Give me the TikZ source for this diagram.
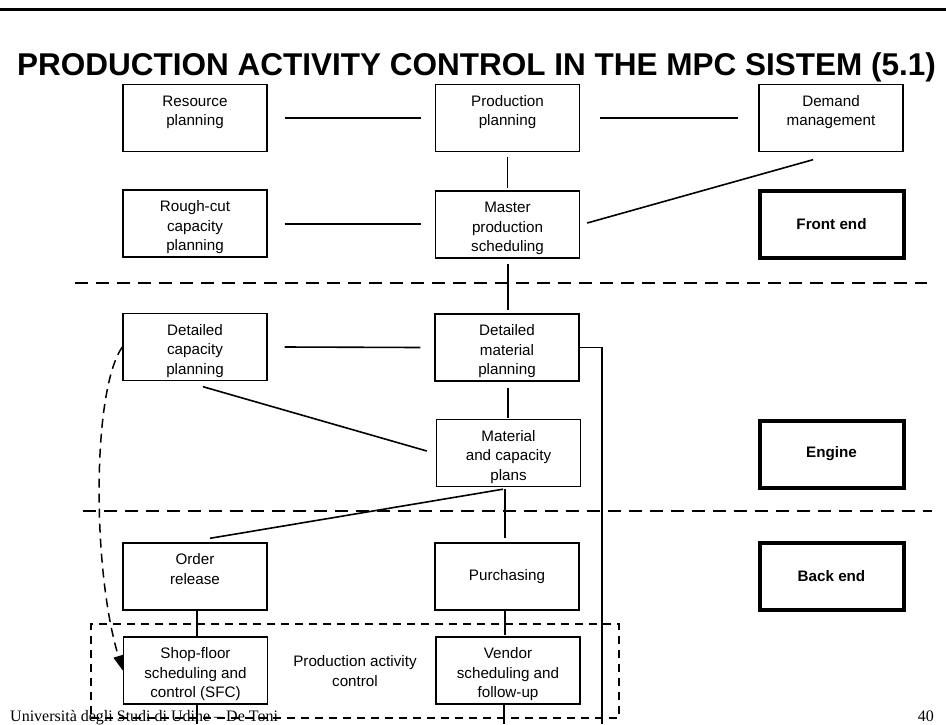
\documentclass[tikz,border=0pt]{standalone}
\usepackage{fontspec}
\setmainfont{Liberation Sans}
\newfontfamily\footserif{Liberation Serif}
\usetikzlibrary{arrows.meta}

% extra height on the first line pushes the text block to the top of its box
\newcommand\toplift{\rule{0pt}{21pt}}

\tikzset{
  box/.style={draw, line width=1.4, minimum width=144, minimum height=67,
              inner sep=0, align=center, font=\fontsize{15.2}{19.5}\selectfont},
  phase/.style={box, line width=4, font=\fontsize{15.2}{19.5}\selectfont\bfseries},
  link/.style={line width=1.6},
  sepline/.style={line width=1.8, dash pattern=on 13 off 8},
  pacframe/.style={draw, line width=1.8, dash pattern=on 8 off 6,
                   minimum width=528, minimum height=94, inner sep=0,
                   align=center, font=\fontsize{15.2}{19.5}\selectfont},
  feedback/.style={line width=1.5, dash pattern=on 9 off 6,
                   -{Triangle[length=15,width=10]}},
}

\begin{document}
\begin{tikzpicture}[x=1pt,y=-1pt]
\useasboundingbox (0,0) rectangle (946,724);

% heading rule and title
\coordinate (barl) at (0,9.5);
\coordinate (barr) at (946,9.5);
\draw[line width=3.5] (barl) -- (barr);
\node[anchor=base west, inner sep=0, font=\fontsize{31.5}{36}\selectfont\bfseries]
  (title) at (17,75) {PRODUCTION ACTIVITY CONTROL IN THE MPC SISTEM (5.1)};

% front end
\node[box] (rp)  at (195,118)   {\toplift Resource\\planning\\\strut};
\node[box] (pp)  at (507.5,118) {\toplift Production\\planning\\\strut};
\node[box] (dm)  at (831,118)   {\toplift Demand\\management\\\strut};
\node[box] (rc)  at (195,223.5) {\toplift Rough-cut\\capacity\\planning\strut};
\node[box] (mps) at (507.5,224.5) {\toplift Master\\production\\scheduling\strut};
\node[phase] (fe) at (831.5,224.5) {Front end};

% engine
\node[box] (dcp) at (195,347)   {\toplift Detailed\\capacity\\planning\strut};
\node[box] (dmp) at (507,347.5) {\toplift Detailed\\material\\planning\strut};
\node[box] (mcp) at (508.5,453) {\toplift Material\\and capacity\\plans\strut};
\node[phase] (eng) at (831.5,454) {Engine};

% back end
\node[box] (or)  at (195,576.5) {\toplift Order\\release\\\strut};
\node[box] (pur) at (507,576.5) {Purchasing};
\node[phase] (be) at (831.5,576.5) {Back end};
\node[box] (sfc) at (195.5,670.5) {\toplift Shop-floor\\scheduling and\\control (SFC)\strut};
\node[box] (ven) at (508,670.5)   {\toplift Vendor\\scheduling and\\follow-up\strut};

% production activity control frame
\node[pacframe] (pac) at (355,671) {Production activity\\control};

% phase separators
\coordinate (s1l) at (75,283);
\coordinate (s1r) at (927,283);
\coordinate (s2l) at (83,511);
\coordinate (s2r) at (932,511);
\draw[sepline] (s1l) -- (s1r);
\draw[sepline] (s2l) -- (s2r);

% lower edge where the flows leave the page
\coordinate (bot) at (0,724);
\coordinate (drop) at (602,724);

% links
\draw[link] ([shift={(17,0)}]rp.east) -- ([shift={(-14,0)}]pp.west);
\draw[link] ([shift={(20,0)}]pp.east) -- ([shift={(-20,0)}]dm.west);
\draw[link] ([shift={(0,5)}]pp.south) -- ([shift={(0,-2)}]mps.north);
\draw[link] ([shift={(17,0.5)}]rc.east) -- ([shift={(-14,-0.5)}]mps.west);
\draw[link] ([shift={(-18,7.5)}]dm.south) -- ([shift={(7,-1.5)}]mps.east);
\draw[link] ([shift={(0.5,5)}]mps.south) -- ([shift={(1,-3)}]dmp.north);
\draw[link] ([shift={(17,0)}]dcp.east) -- ([shift={(-14,0)}]dmp.west);
\draw[link] (dmp.east) -| (drop);
\draw[link] ([shift={(1,6)}]dmp.south) -- ([shift={(-0.5,-1)}]mcp.north);
\draw[link] ([shift={(8,5.5)}]dcp.south) -- ([shift={(-9,-2)}]mcp.west);
\draw[link] ([shift={(-5.5,2)}]mcp.south) -- ([shift={(15,-4)}]or.north);
\draw[link] ([shift={(-3.5,2)}]mcp.south) -- ([shift={(-2,-4)}]pur.north);
\draw[link] ([shift={(-2,0)}]pur.south) -- ([shift={(-3,-1)}]ven.north);
\draw[link] ([shift={(2,0)}]or.south) -- ([shift={(1.5,0)}]sfc.north);
\draw[link] ([shift={(1.5,0)}]sfc.south) -- ([shift={(1.5,0)}]sfc.south |- bot);
\draw[link] ([shift={(-4,0)}]ven.south) -- ([shift={(-4,0)}]ven.south |- bot);

% feedback from detailed capacity planning to shop-floor control
\draw[feedback] (dcp.west) .. controls (92,390) and (92,570) .. (sfc.west);

% footer
\node[anchor=base west, inner sep=0, font=\footserif\fontsize{16}{19}\selectfont]
  (foot) at (10,721) {Università degli Studi di Udine – De Toni};
\node[anchor=base east, inner sep=0, font=\footserif\fontsize{16}{19}\selectfont]
  (pageno) at (934,721) {40};
\end{tikzpicture}
\end{document}
